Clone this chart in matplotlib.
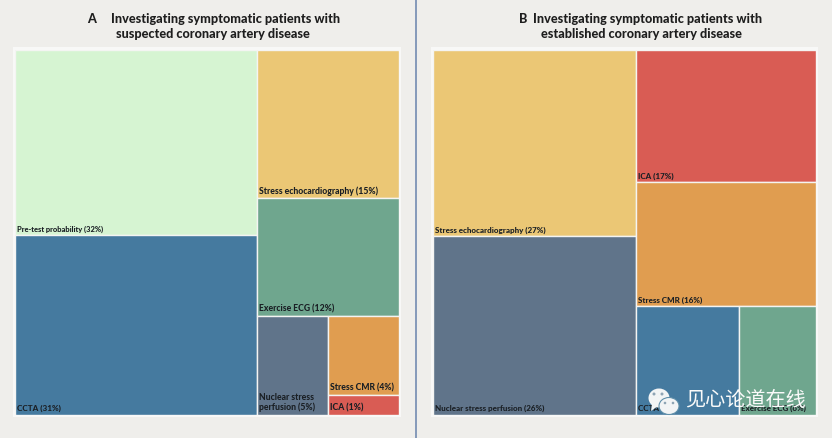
import matplotlib
matplotlib.use("Agg")
import matplotlib.pyplot as plt
from matplotlib.patches import Rectangle, Ellipse, Polygon

plt.rcParams['font.family'] = ['Lato', 'DejaVu Sans']

# Panel A shares (%)
a_names = ["Pre-test probability (32%)", "CCTA (31%)", "Stress echocardiography (15%)",
           "Exercise ECG (12%)", "Nuclear stress\nperfusion (5%)", "Stress CMR (4%)", "ICA (1%)"]
a_values = [32, 31, 15, 12, 5, 4, 1]
a_colors = ["#D6F4D2", "#457A9F", "#EBC775", "#6FA68E", "#60748A", "#E09D50", "#D95C54"]

# Panel B shares (%)
b_names = ["Stress echocardiography (27%)", "Nuclear stress perfusion (26%)", "ICA (17%)",
           "Stress CMR (16%)", "CCTA (8%)", "Exercise ECG (6%)"]
b_values = [27, 26, 17, 16, 8, 6]
b_colors = ["#EBC775", "#60748A", "#D95C54", "#E09D50", "#457A9F", "#6FA68E"]

BG = "#EFEEEB"
fig = plt.figure(figsize=(8.32, 4.38), dpi=100, facecolor=BG)
W, H = 832, 438
LABEL_SIZE = {"Pre-test probability (32%)": 5.4, "CCTA (31%)": 5.9}


def make_ax(x0, y0, x1, y1, default_fs):
    ax = fig.add_axes([x0 / W, 1 - y1 / H, (x1 - x0) / W, (y1 - y0) / H], zorder=2)
    ax.set_xlim(0, 1)
    ax.set_ylim(1, 0)
    ax.axis("off")
    ax.default_fs = default_fs
    return ax


def cell(ax, x, y, w, h, color, label):
    ax.add_patch(Rectangle((x, y), w, h, facecolor=color, edgecolor="#F4F4F2", linewidth=1.0, zorder=2))
    ax.text(x + 0.006, y + h - 0.006, label, ha="left", va="bottom",
            fontsize=LABEL_SIZE.get(label, ax.default_fs),
            fontweight="black", color="#1A1F24", linespacing=1.1, zorder=3)


def column(ax, x, w, y, h, values, colors, names):
    total = sum(values)
    for v, c, n in zip(values, colors, names):
        ch = h * v / total
        cell(ax, x, y, w, ch, c, n)
        y += ch
    return y


def treemap(ax, values, colors, names):
    """Slice-and-dice: left column of 2, right column stacked, remainder split."""
    total = sum(values)
    lw = sum(values[:2]) / total
    column(ax, 0, lw, 0, 1, values[:2], colors[:2], names[:2])
    rw = 1 - lw
    right_total = sum(values[2:])
    y = column(ax, lw, rw, 0, sum(values[2:4]) / right_total, values[2:4], colors[2:4], names[2:4])
    rest = values[4:]
    h = 1 - y
    w0 = rw * rest[0] / sum(rest)
    cell(ax, lw, y, w0, h, colors[4], names[4])
    column(ax, lw + w0, rw - w0, y, h, rest[1:], colors[5:], names[5:])


# white frames behind the panels
for x0, x1 in ((13, 401), (431, 818)):
    fig.add_artist(Rectangle((x0 / W, 1 - 417 / H), (x1 - x0) / W, 370 / H,
                             transform=fig.transFigure, facecolor="#F8F8F7", edgecolor="none", zorder=-1))

axa = make_ax(15, 50, 399, 414.5, 6.2)
treemap(axa, a_values, a_colors, a_names)
axb = make_ax(433, 50, 816, 414.5, 5.8)
treemap(axb, b_values, b_colors, b_names)

# divider
fig.add_artist(plt.Line2D([415.5 / W] * 2, [0, 1], color="#7C93B5", lw=1.3))

# titles
tkw = dict(fontsize=9.1, fontweight="black", color="#1E1E1E", va="center", transform=fig.transFigure)
fig.text(87 / W, 1 - 19 / H, "A", ha="left", **tkw)
fig.text(225.5 / W, 1 - 19 / H, "Investigating symptomatic patients with", ha="center", **tkw)
fig.text(213 / W, 1 - 33.5 / H, "suspected coronary artery disease", ha="center", **tkw)
fig.text(519 / W, 1 - 19 / H, "B", ha="left", **tkw)
fig.text(647.5 / W, 1 - 19 / H, "Investigating symptomatic patients with", ha="center", **tkw)
fig.text(641 / W, 1 - 33.5 / H, "established coronary artery disease", ha="center", **tkw)

# watermark
ov = fig.add_axes([0, 0, 1, 1], zorder=10)
ov.set_xlim(0, W)
ov.set_ylim(H, 0)
ov.axis("off")
ov.add_patch(Ellipse((659, 398), 21, 19, facecolor="#F2F4F5", edgecolor="none"))
ov.add_patch(Polygon([[652, 404], [651, 411], [658, 406]], facecolor="#F2F4F5", edgecolor="none"))
ov.add_patch(Ellipse((669, 406), 20, 17, facecolor="#F2F4F5", edgecolor="#5F8FAA", linewidth=0.8))
for ex, ey in ((654, 394), (662, 394)):
    ov.add_patch(Ellipse((ex, ey), 3, 3, facecolor="#8FA5B5", edgecolor="none"))
for ex, ey in ((665, 403), (673, 403)):
    ov.add_patch(Ellipse((ex, ey), 2.6, 2.6, facecolor="#8FA5B5", edgecolor="none"))
ov.text(745, 401, "见心论道在线", ha="center", va="center", color="#FAFAFA", fontsize=14.5,
        family=['Noto Sans CJK SC', 'DejaVu Sans'])

fig.savefig("out.png", dpi=100, facecolor=BG)
